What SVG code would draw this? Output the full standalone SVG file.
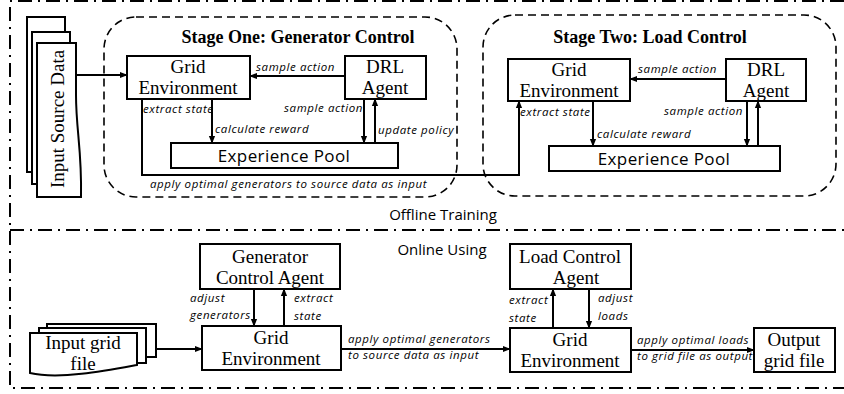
<svg xmlns="http://www.w3.org/2000/svg" width="844" height="394" viewBox="0 0 844 394">
<style>
.box{fill:#fff;stroke:#000;stroke-width:2}
.doc{fill:#fff;stroke:#000;stroke-width:2}
.ln{fill:none;stroke:#000;stroke-width:2}
.frame{fill:none;stroke:#000;stroke-width:2;stroke-dasharray:14 6 2 6}
.stage{fill:none;stroke:#000;stroke-width:1.6;stroke-dasharray:8 5}
.t{font-family:"Liberation Serif",serif;font-size:19px;fill:#000;text-anchor:middle}
.h{font-family:"Liberation Serif",serif;font-size:18px;font-weight:bold;fill:#000;text-anchor:middle}
.s{font-family:"Open Sans","DejaVu Sans",sans-serif;font-size:15px;fill:#000;text-anchor:middle}
.p{font-family:"Open Sans","DejaVu Sans",sans-serif;font-size:17px;letter-spacing:0.4px;fill:#000;text-anchor:middle}
.l{font-family:"Open Sans","DejaVu Sans",sans-serif;font-size:11.5px;font-style:italic;letter-spacing:0.6px;fill:#000}
</style>
<defs>
<marker id="ah" viewBox="0 0 10 10" refX="9" refY="5" markerWidth="4" markerHeight="4" orient="auto" markerUnits="strokeWidth">
<path d="M0,1 L10,5 L0,9 z" fill="#000"/>
</marker>
</defs>

<g id="frames">
<path class="frame" d="M844,1 H10 V388 H844"/>
<path class="frame" d="M10,230 H844"/>
<rect class="stage" x="104" y="17" width="353" height="180" rx="32"/>
<rect class="stage" x="483" y="15" width="353" height="181" rx="32"/>
<text class="h" x="298" y="43">Stage One: Generator Control</text>
<text class="h" x="650" y="43">Stage Two: Load Control</text>
<text class="s" x="443" y="220">Offline Training</text>
<text class="s" x="442" y="255">Online Using</text>
</g>

<g id="input-source-data">
<rect class="doc" x="27" y="17" width="38" height="155"/>
<rect class="doc" x="32" y="32" width="38" height="152"/>
<path class="doc" d="M37,43 H76 V95 C76,130 82,150 81,197 H37 Z"/>
<text class="t" transform="translate(64,119) rotate(-90)" font-size="19.5">Input Source Data</text>
</g>

<g id="s1-grid">
<rect class="box" x="127" y="56" width="123" height="43"/>
<text class="t" x="188" y="73">Grid</text>
<text class="t" x="188" y="94">Environment</text>
</g>
<g id="s1-drl">
<rect class="box" x="345" y="56" width="81" height="43"/>
<text class="t" x="385" y="73">DRL</text>
<text class="t" x="385" y="94">Agent</text>
</g>
<g id="s1-pool">
<rect class="box" x="171" y="143" width="227" height="25"/>
<text class="p" x="284" y="162">Experience Pool</text>
</g>

<g id="s2-grid">
<rect class="box" x="508" y="59" width="122" height="42"/>
<text class="t" x="569" y="76">Grid</text>
<text class="t" x="569" y="97">Environment</text>
</g>
<g id="s2-drl">
<rect class="box" x="726" y="59" width="80" height="42"/>
<text class="t" x="766" y="76">DRL</text>
<text class="t" x="766" y="97">Agent</text>
</g>
<g id="s2-pool">
<rect class="box" x="549" y="146" width="231" height="25"/>
<text class="p" x="664" y="165">Experience Pool</text>
</g>

<g id="on-genagent">
<rect class="box" x="200" y="244" width="140" height="45"/>
<text class="t" x="270" y="263">Generator</text>
<text class="t" x="270" y="284">Control Agent</text>
</g>
<g id="on-grid1">
<rect class="box" x="202" y="326" width="139" height="44"/>
<text class="t" x="271" y="344">Grid</text>
<text class="t" x="271" y="365">Environment</text>
</g>
<g id="on-loadagent">
<rect class="box" x="510" y="244" width="121" height="45"/>
<text class="t" x="570" y="263">Load Control</text>
<text class="t" x="576" y="284">Agent</text>
</g>
<g id="on-grid2">
<rect class="box" x="510" y="328" width="121" height="44"/>
<text class="t" x="570" y="346">Grid</text>
<text class="t" x="570" y="367">Environment</text>
</g>
<g id="on-output">
<rect class="box" x="754" y="328" width="81" height="44"/>
<text class="t" x="794" y="346">Output</text>
<text class="t" x="794" y="367">grid file</text>
</g>
<g id="input-grid-file">
<rect class="doc" x="47" y="324" width="109" height="33"/>
<rect class="doc" x="39" y="328" width="107" height="35"/>
<path class="doc" d="M30,333 H137 V365 C110,370 60,380 30,373 Z"/>
<text class="t" x="83" y="349">Input grid</text>
<text class="t" x="83" y="370">file</text>
</g>

<g id="connectors">
<path class="ln" d="M76,75 H127" marker-end="url(#ah)"/>
<path class="ln" d="M345,76 H250" marker-end="url(#ah)"/>
<path class="ln" d="M212,99 V143" marker-end="url(#ah)"/>
<path class="ln" d="M364,99 V143" marker-end="url(#ah)"/>
<path class="ln" d="M375,143 V99" marker-end="url(#ah)"/>
<path class="ln" d="M142,99 V175 H519 V101" marker-end="url(#ah)"/>
<path class="ln" d="M726,79 H630" marker-end="url(#ah)"/>
<path class="ln" d="M593,101 V146" marker-end="url(#ah)"/>
<path class="ln" d="M747,101 V146" marker-end="url(#ah)"/>
<path class="ln" d="M758,146 V101" marker-end="url(#ah)"/>

<path class="ln" d="M254,289 V326" marker-end="url(#ah)"/>
<path class="ln" d="M284,326 V289" marker-end="url(#ah)"/>
<path class="ln" d="M156,349 H202" marker-end="url(#ah)"/>
<path class="ln" d="M341,349 H510" marker-end="url(#ah)"/>
<path class="ln" d="M553,328 V289" marker-end="url(#ah)"/>
<path class="ln" d="M589,289 V328" marker-end="url(#ah)"/>
<path class="ln" d="M631,350 H754" marker-end="url(#ah)"/>

<text class="l" x="256" y="71">sample action</text>
<text class="l" x="143" y="113">extract state</text>
<text class="l" x="215" y="133">calculate reward</text>
<text class="l" x="284" y="112">sample action</text>
<text class="l" x="378" y="134">update policy</text>
<text class="l" x="150" y="188">apply optimal generators to source data as input</text>
<text class="l" x="638" y="73">sample action</text>
<text class="l" x="520" y="116">extract state</text>
<text class="l" x="597" y="138">calculate reward</text>
<text class="l" x="664" y="115">sample action</text>

<text class="l" x="190" y="302">adjust</text>
<text class="l" x="190" y="319">generators</text>
<text class="l" x="294" y="302">extract</text>
<text class="l" x="294" y="320">state</text>
<text class="l" x="348" y="343">apply optimal generators</text>
<text class="l" x="348" y="359">to source data as input</text>
<text class="l" x="509" y="304">extract</text>
<text class="l" x="509" y="322">state</text>
<text class="l" x="598" y="302">adjust</text>
<text class="l" x="598" y="320">loads</text>
<text class="l" x="637" y="344">apply optimal loads</text>
<text class="l" x="637" y="360">to grid file as output</text>
</g>
</svg>
